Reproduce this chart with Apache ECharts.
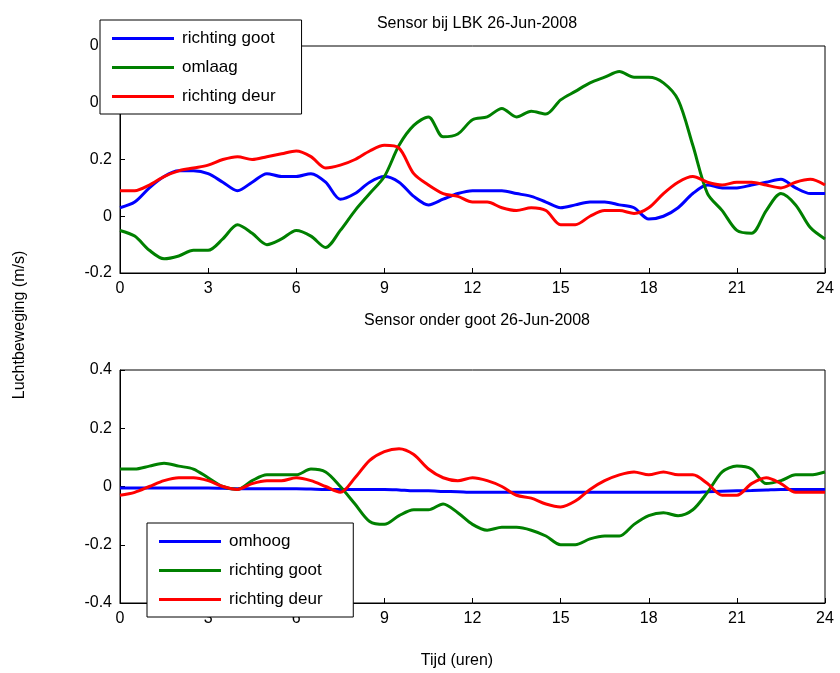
<!DOCTYPE html>
<html>
<head>
<meta charset="utf-8">
<script src="https://cdn.jsdelivr.net/npm/echarts@6/dist/echarts.min.js"></script>
<style>
  html, body { margin: 0; padding: 0; background: #fff; }
  #chart { width: 840px; height: 673px; }
</style>
</head>
<body>
<div id="chart"></div>
<script>
// tijd in uren
var hours = [0, 0.5, 1, 1.5, 2, 2.5, 3, 3.5, 4, 4.5, 5, 5.5, 6, 6.5, 7, 7.5, 8, 8.5, 9, 9.5,
    10, 10.5, 11, 11.5, 12, 12.5, 13, 13.5, 14, 14.5, 15, 15.5, 16, 16.5, 17, 17.5, 18, 18.5, 19, 19.5,
    20, 20.5, 21, 21.5, 22, 22.5, 23, 23.5, 24];

// Sensor bij LBK
var lbkGoot = [0.03, 0.05, 0.10, 0.14, 0.16, 0.16, 0.15, 0.12, 0.09, 0.12, 0.15, 0.14, 0.14, 0.15, 0.12, 0.06, 0.08, 0.12, 0.14, 0.12,
    0.07, 0.04, 0.06, 0.08, 0.09, 0.09, 0.09, 0.08, 0.07, 0.05, 0.03, 0.04, 0.05, 0.05, 0.04, 0.03, -0.01, 0.0, 0.03, 0.08,
    0.11, 0.10, 0.10, 0.11, 0.12, 0.13, 0.10, 0.08, 0.08];
var lbkOmlaag = [-0.05, -0.07, -0.12, -0.15, -0.14, -0.12, -0.12, -0.08, -0.03, -0.06, -0.10, -0.08, -0.05, -0.07, -0.11, -0.05, 0.02, 0.08, 0.14, 0.25,
    0.32, 0.35, 0.28, 0.29, 0.34, 0.35, 0.38, 0.35, 0.37, 0.36, 0.41, 0.44, 0.47, 0.49, 0.51, 0.49, 0.49, 0.47, 0.41, 0.25,
    0.08, 0.02, -0.05, -0.06, 0.02, 0.08, 0.04, -0.04, -0.08];
var lbkDeur = [0.09, 0.09, 0.11, 0.14, 0.16, 0.17, 0.18, 0.20, 0.21, 0.20, 0.21, 0.22, 0.23, 0.21, 0.17, 0.18, 0.20, 0.23, 0.25, 0.24,
    0.15, 0.11, 0.08, 0.07, 0.05, 0.05, 0.03, 0.02, 0.03, 0.02, -0.03, -0.03, 0.0, 0.02, 0.02, 0.01, 0.03, 0.08, 0.12, 0.14,
    0.12, 0.11, 0.12, 0.12, 0.11, 0.10, 0.12, 0.13, 0.11];

// Sensor onder goot
var gootOmhoog = [-0.005, -0.005, -0.005, -0.005, -0.005, -0.005, -0.005, -0.006, -0.008, -0.008, -0.008, -0.008, -0.008, -0.009, -0.01, -0.01, -0.01, -0.01, -0.01, -0.012,
    -0.015, -0.015, -0.017, -0.018, -0.02, -0.02, -0.02, -0.02, -0.02, -0.02, -0.02, -0.02, -0.02, -0.02, -0.02, -0.02, -0.02, -0.02, -0.02, -0.02,
    -0.018, -0.016, -0.015, -0.014, -0.012, -0.01, -0.01, -0.01, -0.01];
var gootGoot = [0.06, 0.06, 0.07, 0.08, 0.07, 0.06, 0.03, 0.0, -0.01, 0.02, 0.04, 0.04, 0.04, 0.06, 0.05, 0.0, -0.06, -0.12, -0.13, -0.10,
    -0.08, -0.08, -0.06, -0.09, -0.13, -0.15, -0.14, -0.14, -0.15, -0.17, -0.20, -0.20, -0.18, -0.17, -0.17, -0.13, -0.10, -0.09, -0.10, -0.08,
    -0.02, 0.05, 0.07, 0.06, 0.01, 0.02, 0.04, 0.04, 0.05];
var gootDeur = [-0.03, -0.02, 0.0, 0.02, 0.03, 0.03, 0.02, 0.0, -0.01, 0.01, 0.02, 0.02, 0.03, 0.02, 0.0, -0.02, 0.03, 0.09, 0.12, 0.13,
    0.11, 0.06, 0.03, 0.02, 0.03, 0.02, 0.0, -0.03, -0.04, -0.06, -0.07, -0.05, -0.01, 0.02, 0.04, 0.05, 0.04, 0.05, 0.04, 0.04,
    0.01, -0.03, -0.03, 0.01, 0.03, 0.01, -0.02, -0.02, -0.02];

var font = 'Liberation Sans, Arial, sans-serif';

function pairs(vals) {
    return hours.map(function (h, i) { return [h, vals[i]]; });
}

function line(name, vals, color, idx) {
    return {
        name: name, type: 'line', xAxisIndex: idx, yAxisIndex: idx,
        data: pairs(vals), showSymbol: false, smooth: 0.3,
        lineStyle: { color: color, width: 3 }, itemStyle: { color: color }
    };
}

function xAxis(idx) {
    return {
        type: 'value', gridIndex: idx, min: 0, max: 24, interval: 3,
        axisLine: { onZero: false, lineStyle: { color: '#000' } },
        axisTick: { inside: true, length: 5, lineStyle: { color: '#000' } },
        axisLabel: { color: '#000', fontFamily: font, fontSize: 16, margin: 8 },
        splitLine: { show: false }
    };
}

function yAxis(idx, min, max) {
    return {
        type: 'value', gridIndex: idx, min: min, max: max, interval: 0.2,
        axisLine: { show: true, onZero: false, lineStyle: { color: '#000' } },
        axisTick: { inside: true, length: 5, lineStyle: { color: '#000' } },
        axisLabel: { color: '#000', fontFamily: font, fontSize: 16, margin: 8,
            formatter: function (v) { return Math.abs(v) < 1e-9 ? '0' : String(+v.toFixed(1)); } },
        splitLine: { show: false }
    };
}

var legendBase = {
    orient: 'vertical', backgroundColor: '#fff', borderColor: '#000', borderWidth: 1,
    padding: [10, 26, 9, 12], itemGap: 12, itemWidth: 62, itemHeight: 3, icon: 'rect',
    textStyle: { color: '#000', fontFamily: font, fontSize: 17, padding: [0, 0, 0, 3] },
    selectedMode: false
};

var chart = echarts.init(document.getElementById('chart'));
chart.setOption({
    animation: false,
    title: [
        { text: 'Sensor bij LBK 26-Jun-2008', left: 472, top: 11, textAlign: 'center',
          textStyle: { fontFamily: font, fontSize: 16, fontWeight: 'normal', color: '#000' } },
        { text: 'Sensor onder goot 26-Jun-2008', left: 472, top: 308, textAlign: 'center',
          textStyle: { fontFamily: font, fontSize: 16, fontWeight: 'normal', color: '#000' } }
    ],
    grid: [
        { left: 120, right: 15, top: 46, height: 227, show: true, borderColor: '#000', borderWidth: 1 },
        { left: 120, right: 15, top: 370, height: 233, show: true, borderColor: '#000', borderWidth: 1 }
    ],
    xAxis: [xAxis(0), xAxis(1)],
    yAxis: [yAxis(0, -0.2, 0.6), yAxis(1, -0.4, 0.4)],
    legend: [
        Object.assign({}, legendBase, { left: 100, top: 20, data: ['richting goot', 'omlaag', 'richting deur'] }),
        Object.assign({}, legendBase, { left: 147, top: 523, data: ['omhoog', 'richting goot ', 'richting deur '] })
    ],
    graphic: [
        { type: 'text', x: 20, y: 325, rotation: Math.PI / 2,
          style: { text: 'Luchtbeweging (m/s)', font: '16px ' + font, fill: '#000', align: 'center', verticalAlign: 'middle' } },
        { type: 'text', x: 457, y: 661,
          style: { text: 'Tijd (uren)', font: '16px ' + font, fill: '#000', align: 'center', verticalAlign: 'middle' } }
    ],
    series: [
        line('richting goot', lbkGoot, '#0000ff', 0),
        line('omlaag', lbkOmlaag, '#008000', 0),
        line('richting deur', lbkDeur, '#ff0000', 0),
        line('omhoog', gootOmhoog, '#0000ff', 1),
        line('richting goot ', gootGoot, '#008000', 1),
        line('richting deur ', gootDeur, '#ff0000', 1)
    ]
});
</script>
</body>
</html>
